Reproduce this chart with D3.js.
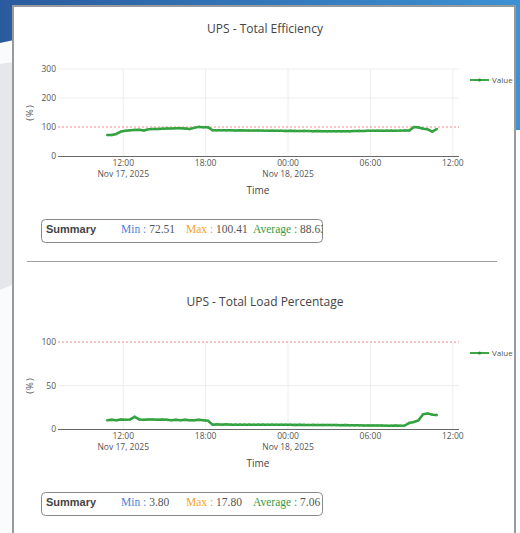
<!DOCTYPE html>
<html>
<head>
<meta charset="utf-8">
<script src="https://cdn.jsdelivr.net/npm/d3@7"></script>
<style>
body { margin: 0; background: #fff; overflow: hidden; }
svg { display: block; }
</style>
</head>
<body>
<div id="root"></div>
<script>
// samples every 20 minutes, starting Nov 17 2025 10:50
const sampleStart = new Date(2025, 10, 17, 10, 50)
const sampleStepMin = 20

const efficiency = [72.5, 72.6, 76, 84, 87, 89, 90, 90.5, 88, 92, 93, 93, 94, 95, 95, 96, 96, 95, 93, 97,
    100.4, 99, 99.5, 89, 89, 89, 88.5, 89, 88, 88.5, 88, 88, 87.5, 88, 87.5, 87, 87.5, 87, 87, 86.5,
    87, 86.5, 86, 86.5, 86, 85.5, 86, 85.5, 85, 85.5, 85, 85, 85.5, 85, 86, 86.5, 86, 87, 87, 87.5,
    87, 87.5, 87.5, 87, 87.5, 88, 88, 100, 98, 94, 92, 84, 93]

const loadPct = [10, 10.5, 10, 11, 10.5, 11, 14, 11, 10.5, 11, 11, 10.5, 11, 10.5, 10, 10.5, 10, 10.5, 10, 10,
    10.5, 10, 9.5, 5, 5.5, 5, 5.5, 5, 5, 5, 5, 5, 4.8, 5, 5, 4.8, 5, 4.8, 4.8, 4.8,
    4.8, 4.7, 4.8, 4.7, 4.6, 4.7, 4.6, 4.5, 4.6, 4.5, 4.5, 4.4, 4.5, 4.3, 4.2, 4.2, 4.1, 4.0, 4.0, 3.9,
    3.9, 3.8, 3.8, 3.9, 3.8, 4, 7, 8, 10, 17, 17.8, 16.5, 16]

const effTicks = [0, 100, 200, 300]
const loadTicks = [0, 50, 100]
const effSummary = ["72.51", "100.41", "88.63"]
const loadSummary = ["3.80", "17.80", "7.06"]
const xDomain = [new Date(2025, 10, 17, 7, 15), new Date(2025, 10, 18, 12, 27)]

const W = 520, H = 533
const green = "#2f9e3c"

const svg = d3.select("#root").append("svg")
    .attr("width", W)
    .attr("height", H)

// page background behind the card
const defs = svg.append("defs")
const grad = defs.append("linearGradient").attr("id", "band").attr("x1", 0).attr("x2", 1)
grad.append("stop").attr("offset", 0).attr("stop-color", "#2a5b9e")
grad.append("stop").attr("offset", 1).attr("stop-color", "#3c92d4")

svg.append("rect").attr("width", W).attr("height", H).attr("fill", "#fafbfc")
svg.append("path").attr("d", "M0,64 L14,62 L14,284 L0,290 Z").attr("fill", "#e5e7eb")
svg.append("path").attr("d", "M0,0 L520,0 L520,130 L505,130 L505,20 L14,40 L0,43 Z").attr("fill", "url(#band)")

// card
svg.append("rect")
    .attr("x", 13).attr("y", 6)
    .attr("width", 502).attr("height", H)
    .attr("fill", "white")
    .attr("stroke", "#9a9a9a")
    .attr("stroke-width", 2)

// separator between the two charts
svg.append("line")
    .attr("x1", 27).attr("x2", 497)
    .attr("y1", 261.5).attr("y2", 261.5)
    .attr("stroke", "#a0a0a0")

const x = d3.scaleTime().domain(xDomain).range([58, 459])
const times = d3.range(efficiency.length).map(i => d3.timeMinute.offset(sampleStart, i * sampleStepMin))

function drawPanel(cfg) {
    const g = svg.append("g")
    const y = d3.scaleLinear().domain([0, d3.max(cfg.ticks)]).range([cfg.bottom, cfg.top])

    g.append("text")
        .attr("x", 265).attr("y", cfg.titleY)
        .attr("text-anchor", "middle")
        .attr("font-family", "Open Sans")
        .attr("font-size", 12)
        .attr("fill", "#444")
        .text(cfg.title)

    // vertical grid
    const xticks = x.ticks(d3.timeHour.every(6))
    g.selectAll("line.vgrid").data(xticks).enter().append("line")
        .attr("class", "vgrid")
        .attr("x1", d => x(d)).attr("x2", d => x(d))
        .attr("y1", cfg.top).attr("y2", cfg.bottom)
        .attr("stroke", "#eeeeee")

    // horizontal grid
    g.selectAll("line.hgrid").data(cfg.ticks.filter(t => t > 0 && t != 100)).enter().append("line")
        .attr("class", "hgrid")
        .attr("x1", 58).attr("x2", 459)
        .attr("y1", d => y(d)).attr("y2", d => y(d))
        .attr("stroke", "#eeeeee")

    // 100% reference
    g.append("line")
        .attr("x1", 58).attr("x2", 459)
        .attr("y1", y(100)).attr("y2", y(100))
        .attr("stroke", "#f08a8a")
        .attr("stroke-dasharray", "2,2")

    // y tick labels
    g.selectAll("text.ytick").data(cfg.ticks).enter().append("text")
        .attr("class", "ytick")
        .attr("x", 56).attr("y", d => y(d) + 3)
        .attr("text-anchor", "end")
        .attr("font-family", "Open Sans")
        .attr("font-size", 8.5)
        .attr("fill", "#555")
        .text(d => d)

    g.append("text")
        .attr("transform", `translate(33,${(cfg.top + cfg.bottom) / 2}) rotate(-90)`)
        .attr("text-anchor", "middle")
        .attr("font-family", "Open Sans")
        .attr("font-size", 9.5)
        .attr("letter-spacing", 1)
        .attr("fill", "#555")
        .text("(%)")

    // x axis line
    g.append("line")
        .attr("x1", 58).attr("x2", 459)
        .attr("y1", cfg.bottom + 0.5).attr("y2", cfg.bottom + 0.5)
        .attr("stroke", "#666")

    const fmtTime = d3.timeFormat("%H:%M"), fmtDate = d3.timeFormat("%b %d, %Y")
    const xl = g.selectAll("text.xtick").data(xticks).enter().append("text")
        .attr("class", "xtick")
        .attr("text-anchor", "middle")
        .attr("font-family", "Open Sans")
        .attr("font-size", 8.5)
        .attr("fill", "#555")
    xl.append("tspan").attr("x", d => x(d)).attr("y", cfg.bottom + 10).text(d => fmtTime(d))
    xl.filter((d, i) => i == 0 || d.getHours() == 0)
        .append("tspan").attr("x", d => x(d)).attr("y", cfg.bottom + 21).text(d => fmtDate(d))

    g.append("text")
        .attr("x", 258).attr("y", cfg.bottom + 38)
        .attr("text-anchor", "middle")
        .attr("font-family", "Open Sans")
        .attr("font-size", 10)
        .attr("fill", "#444")
        .text("Time")

    // series
    const pts = cfg.values.map((v, i) => [times[i], v])
    g.append("path")
        .datum(pts)
        .attr("fill", "none")
        .attr("stroke", green)
        .attr("stroke-width", 2.5)
        .attr("stroke-linejoin", "round")
        .attr("d", d3.line().x(d => x(d[0])).y(d => y(d[1])))
    g.selectAll("circle.pt").data(pts).enter().append("circle")
        .attr("class", "pt")
        .attr("cx", d => x(d[0])).attr("cy", d => y(d[1]))
        .attr("r", 1.3)
        .attr("fill", "#3aa845")

    // legend
    g.append("line")
        .attr("x1", 470).attr("x2", 489)
        .attr("y1", cfg.legendY).attr("y2", cfg.legendY)
        .attr("stroke", "#3aa845").attr("stroke-width", 2)
    g.append("circle").attr("cx", 479.5).attr("cy", cfg.legendY).attr("r", 1.6).attr("fill", "#2a8a35")
    g.append("text")
        .attr("x", 492).attr("y", cfg.legendY + 3)
        .attr("font-family", "Open Sans")
        .attr("font-size", 8)
        .attr("fill", "#555")
        .text("Value")

    // summary box
    const clipId = "clip" + cfg.boxY
    defs.append("clipPath").attr("id", clipId)
        .append("rect").attr("x", 41).attr("y", cfg.boxY).attr("width", 282).attr("height", 23)
    g.append("rect")
        .attr("x", 41.5).attr("y", cfg.boxY + 0.5)
        .attr("width", 281).attr("height", 23)
        .attr("rx", 4)
        .attr("fill", "white")
        .attr("stroke", "#888")
    const sg = g.append("g").attr("clip-path", `url(#${clipId})`)
    const base = cfg.boxY + 14
    sg.append("text")
        .attr("x", 46).attr("y", base)
        .attr("font-family", "Liberation Sans")
        .attr("font-weight", "bold")
        .attr("font-size", 11)
        .attr("fill", "#444")
        .text("Summary")
    const items = [["Min : ", "#4a86d8", 121], ["Max : ", "#f5a623", 186], ["Average : ", "#3a9a3e", 253]]
    items.forEach((it, i) => {
        const t = sg.append("text")
            .attr("x", it[2]).attr("y", base)
            .attr("font-family", "Liberation Serif")
            .attr("font-size", 11.5)
        t.append("tspan").attr("fill", it[1]).text(it[0])
        t.append("tspan").attr("fill", "#555").text(cfg.summary[i])
    })
}

drawPanel({
    title: "UPS - Total Efficiency", titleY: 33,
    values: efficiency, ticks: effTicks,
    top: 69, bottom: 156, legendY: 80,
    summary: effSummary, boxY: 219
})

drawPanel({
    title: "UPS - Total Load Percentage", titleY: 306,
    values: loadPct, ticks: loadTicks,
    top: 342, bottom: 429, legendY: 353,
    summary: loadSummary, boxY: 492
})
</script>
</body>
</html>
